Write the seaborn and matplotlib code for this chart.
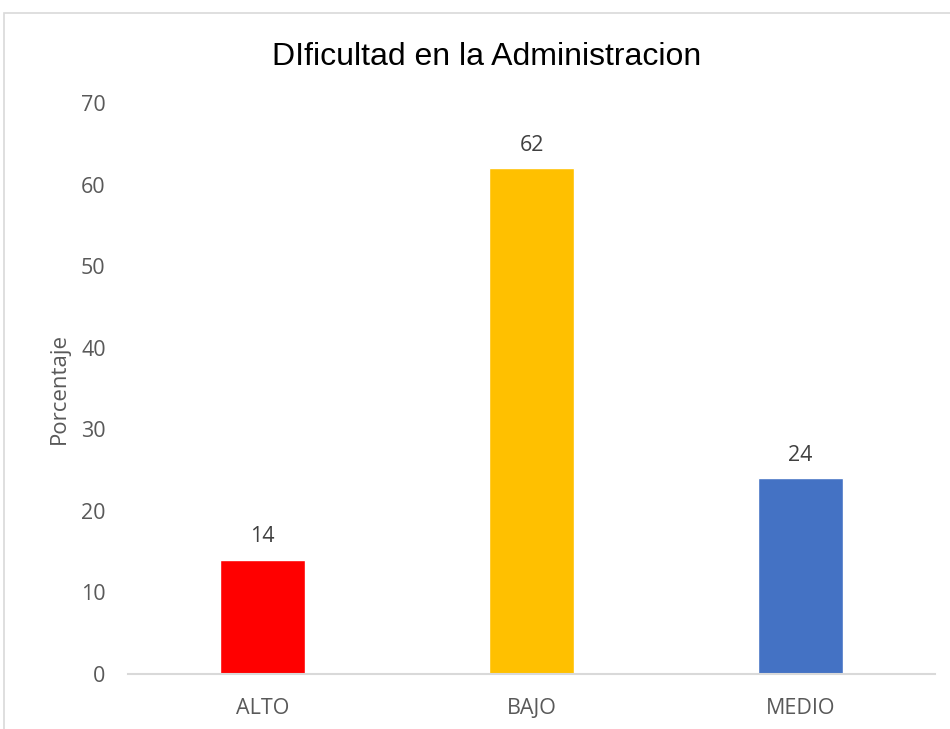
import matplotlib
matplotlib.use('Agg')
import matplotlib.pyplot as plt
import seaborn as sns
import pandas as pd
from matplotlib.patches import Rectangle

categories = ['ALTO', 'BAJO', 'MEDIO']
values = [14, 62, 24]
colors = ['#FF0000', '#FFC000', '#4472C4']
title = 'DIficultad en la Administracion'
ylabel = 'Porcentaje'

sns.set_style('white')
plt.rcParams['font.family'] = ['Open Sans', 'DejaVu Sans']

df = pd.DataFrame({'cat': categories, 'val': values})

fig = plt.figure(figsize=(9.5, 7.29), dpi=100)
ax = fig.add_axes([0.1347, 0.0754, 0.8495, 0.7833])

sns.barplot(data=df, x='cat', y='val', hue='cat', palette=colors, width=0.316,
            legend=False, ax=ax, saturation=1)

ax.set_ylim(0, 70)
ax.set_yticks(range(0, 71, 10))
ax.set_xlim(-0.5, 2.5)
ax.set_xlabel('')
ax.set_ylabel(ylabel, fontsize=16, color='#595959', labelpad=8)
ax.tick_params(axis='both', length=0, labelsize=15.5, colors='#595959')
ax.tick_params(axis='y', pad=16)
ax.tick_params(axis='x', pad=17)
for s in ['top', 'right', 'left']:
    ax.spines[s].set_visible(False)
ax.spines['bottom'].set_color('#D9D9D9')
ax.spines['bottom'].set_linewidth(1.5)

# etiquetas de datos encima de cada barra
for cont in ax.containers:
    ax.bar_label(cont, fmt='%d', padding=9, fontsize=15.5, color='#404040')

fig.text(0.512, 0.922, title, ha='center', va='center', fontsize=23,
         family=['Liberation Sans', 'DejaVu Sans'], color='black')

fig.patches.append(Rectangle((4 / 950, -0.1), 1.2, 0.1 + (729 - 13) / 729,
                             transform=fig.transFigure, fill=False,
                             edgecolor='#D9D9D9', linewidth=1.2))

fig.savefig('out.png', dpi=100)
